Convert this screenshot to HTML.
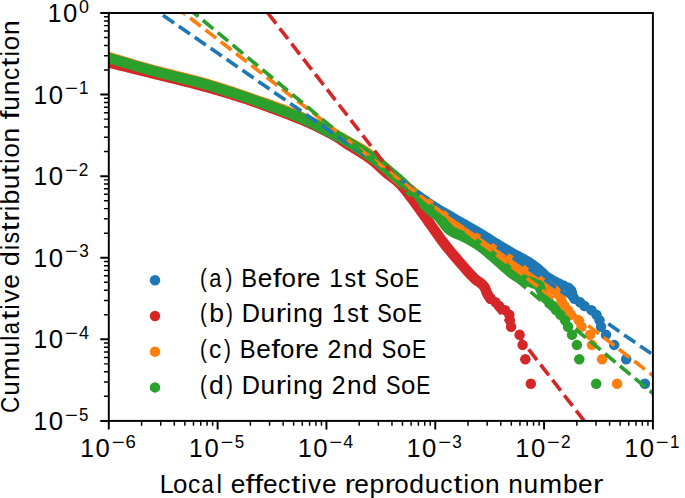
<!DOCTYPE html>
<html><head><meta charset="utf-8"><title>CCDF</title><style>
html,body{margin:0;padding:0;background:#fff;}
body{width:685px;height:498px;overflow:hidden;position:relative;}
svg{position:absolute;left:0;top:0;display:block;}
text{font-family:"Liberation Sans",sans-serif;fill:#000;}
</style></head><body>
<svg width="685" height="498" viewBox="0 0 685 498">
<defs><clipPath id="ax"><rect x="108.8" y="13" width="544.1" height="407.9"/></clipPath></defs>
<rect width="685" height="498" fill="#fff"/>
<g clip-path="url(#ax)">
<polyline points="551,279.48 549.67,278.74 547.78,277.68 546,276.5 544.89,275.45 543.89,274.28 542,272.5 541.15,271.77 540.21,270.96 539.18,270.07 538.06,269.12 536.88,268.12 535.62,267.1 534.29,266.06 532.91,265.02 531.48,264 530,263 528.81,262.25 527.54,261.48 526.21,260.72 524.84,259.94 523.42,259.17 521.98,258.39 520.52,257.61 519.05,256.83 517.59,256.06 516.14,255.28 514.72,254.52 513.34,253.75 512,253 510.6,252.19 509.22,251.39 507.86,250.6 506.52,249.81 505.19,249.03 503.88,248.25 502.57,247.47 501.26,246.69 499.95,245.9 498.64,245.11 497.33,244.31 496,243.5 494.7,242.7 493.45,241.92 492.23,241.15 491.04,240.39 489.84,239.62 488.62,238.84 487.38,238.05 486.07,237.22 484.7,236.36 483.25,235.46 481.68,234.51 480,233.5 478.92,232.86 477.79,232.19 476.6,231.5 475.38,230.79 474.11,230.05 472.81,229.3 471.48,228.54 470.13,227.76 468.76,226.98 467.38,226.19 465.98,225.39 464.59,224.6 463.2,223.8 461.82,223.01 460.45,222.23 459.1,221.45 457.78,220.69 456.48,219.94 455.22,219.21 454,218.5 452.6,217.69 451.23,216.89 449.88,216.12 448.55,215.36 447.24,214.61 445.94,213.86 444.66,213.13 443.38,212.4 442.12,211.67 440.86,210.93 439.6,210.19 438.35,209.45 437.09,208.69 435.83,207.92 434.56,207.13 433.29,206.33 432,205.5 430.7,204.66 429.4,203.8 428.09,202.93 426.78,202.06 425.47,201.17 424.15,200.27 422.84,199.37 421.53,198.46 420.22,197.54 418.92,196.61 417.62,195.68 416.32,194.75 415.04,193.8 413.76,192.86 412.5,191.91 411.24,190.95 410,190 408.77,189.04 407.54,188.06 406.33,187.06 405.11,186.06 403.91,185.05 402.71,184.03 401.52,183.01 400.34,181.98 399.16,180.96 397.99,179.93 396.83,178.91 395.67,177.9 394.53,176.89 393.38,175.9 392.25,174.92 391.12,173.95 390,173 388.75,171.94 387.55,170.9 386.37,169.87 385.21,168.86 384.07,167.85 382.94,166.86 381.82,165.87 380.68,164.88 379.54,163.9 378.37,162.93 377.18,161.95 375.95,160.97 374.69,159.98 373.37,159 372,158 370.82,157.16 369.6,156.32 368.35,155.48 367.07,154.63 365.77,153.78 364.44,152.93 363.1,152.07 361.74,151.22 360.38,150.38 359,149.53 357.61,148.69 356.22,147.85 354.83,147.02 353.45,146.2 352.07,145.38 350.7,144.58 349.34,143.78 348,143 346.67,142.23 345.33,141.46 344,140.7 342.67,139.95 341.33,139.2 340,138.46 338.67,137.73 337.33,137 336,136.28 334.67,135.57 333.33,134.85 332,134.15 330.67,133.45 329.33,132.75 328,132.06 326.67,131.37 325.33,130.68 324,130 322.63,129.3 321.34,128.63 320.1,127.98 318.9,127.36 317.73,126.75 316.58,126.15 315.41,125.56 314.23,124.96 313.01,124.35 311.73,123.73 310.39,123.09 308.96,122.42 307.44,121.72 305.79,120.99 304.01,120.21 302.09,119.38 300,118.5 298.92,118.05 297.8,117.58 296.63,117.1 295.42,116.6 294.18,116.09 292.9,115.57 291.58,115.04 290.24,114.49 288.86,113.94 287.46,113.37 286.04,112.8 284.59,112.22 283.12,111.64 281.63,111.05 280.13,110.45 278.61,109.85 277.08,109.25 275.54,108.65 274,108.04 272.44,107.44 270.89,106.84 269.33,106.24 267.78,105.64 266.23,105.04 264.68,104.45 263.14,103.87 261.61,103.29 260.1,102.72 258.59,102.16 257.11,101.6 255.64,101.06 254.19,100.53 252.77,100 251.37,99.5 250,99 248.48,98.45 246.98,97.91 245.49,97.38 244.02,96.86 242.57,96.35 241.13,95.84 239.7,95.34 238.28,94.85 236.87,94.36 235.47,93.88 234.07,93.4 232.68,92.93 231.29,92.46 229.9,92 228.51,91.54 227.12,91.08 225.72,90.62 224.32,90.17 222.92,89.72 221.5,89.27 220.08,88.82 218.65,88.37 217.2,87.93 215.74,87.48 214.26,87.03 212.77,86.58 211.26,86.13 209.73,85.67 208.18,85.22 206.6,84.76 205,84.3 203.64,83.91 202.25,83.52 200.84,83.13 199.41,82.74 197.96,82.35 196.5,81.96 195.01,81.57 193.52,81.18 192,80.79 190.48,80.4 188.95,80.01 187.4,79.62 185.85,79.23 184.3,78.84 182.74,78.45 181.17,78.06 179.6,77.68 178.03,77.29 176.47,76.91 174.9,76.52 173.34,76.14 171.78,75.76 170.23,75.38 168.69,75.01 167.16,74.63 165.63,74.26 164.12,73.89 162.63,73.52 161.15,73.15 159.68,72.78 158.23,72.42 156.8,72.06 155.4,71.7 154.01,71.35 152.65,71 151.31,70.65 150,70.3 148.29,69.84 146.58,69.38 144.87,68.92 143.17,68.46 141.48,67.99 139.8,67.52 138.13,67.06 136.48,66.6 134.84,66.13 133.22,65.68 131.61,65.22 130.03,64.77 128.47,64.33 126.94,63.89 125.43,63.46 123.95,63.03 122.5,62.61 121.08,62.21 119.69,61.81 118.34,61.42 117.02,61.05 115.75,60.68 114.51,60.33 113.32,60 112.17,59.67 111.06,59.37 110.01,59.07 109,58.8 106.18,58.05 103.81,57.43 101.81,56.94 100.16,56.55 98.78,56.23 97.63,55.98 96.65,55.77 95.79,55.58 95,55.4" fill="none" stroke="#1f77b4" stroke-width="10.5" stroke-linecap="round" stroke-linejoin="round"/>
<g fill="#1f77b4">
<circle cx="644.9" cy="383.8" r="5.25"/>
<circle cx="626.2" cy="359.24" r="5.25"/>
<circle cx="614.2" cy="344.88" r="5.25"/>
<circle cx="606" cy="334.68" r="5.25"/>
<circle cx="601" cy="326.78" r="5.25"/>
<circle cx="599.5" cy="320.32" r="5.25"/>
<circle cx="596.5" cy="314.86" r="5.25"/>
<circle cx="591.5" cy="310.13" r="5.25"/>
<circle cx="584.5" cy="305.95" r="5.25"/>
<circle cx="580" cy="302.22" r="5.25"/>
<circle cx="574.5" cy="298.84" r="5.25"/>
<circle cx="572.5" cy="295.76" r="5.25"/>
<circle cx="572" cy="292.92" r="5.25"/>
<circle cx="571" cy="290.3" r="5.25"/>
<circle cx="568.5" cy="287.85" r="5.25"/>
<circle cx="563.5" cy="285.57" r="5.25"/>
<circle cx="559" cy="283.42" r="5.25"/>
<circle cx="555" cy="281.39" r="5.25"/>
<circle cx="551" cy="279.48" r="5.25"/>
</g>
<polyline points="490.7,298.84 490,297.86 489,296.45 487.92,294.85 487,293.3 486.36,291.78 485.87,290.2 485.34,288.65 484.6,287.2 483.57,285.88 482.35,284.63 481.06,283.47 479.8,282.4 478.43,281.47 477.05,280.7 475,279 474.19,278.21 473.33,277.36 472.42,276.43 471.45,275.42 470.41,274.32 469.31,273.13 468.13,271.84 466.87,270.44 465.53,268.93 464.1,267.3 463.3,266.38 462.45,265.41 461.57,264.39 460.64,263.33 459.69,262.23 458.71,261.09 457.7,259.92 456.68,258.73 455.64,257.51 454.59,256.28 453.54,255.04 452.49,253.79 451.44,252.53 450.41,251.28 449.38,250.03 448.37,248.8 447.39,247.58 446.43,246.38 445.5,245.2 444.55,243.97 443.6,242.74 442.67,241.51 441.75,240.27 440.84,239.03 439.94,237.8 439.05,236.56 438.16,235.32 437.28,234.09 436.41,232.85 435.54,231.62 434.67,230.39 433.81,229.17 432.95,227.94 432.08,226.73 431.22,225.51 430.36,224.3 429.5,223.1 428.59,221.83 427.68,220.55 426.77,219.28 425.87,218 424.97,216.73 424.08,215.45 423.18,214.19 422.29,212.92 421.41,211.67 420.52,210.42 419.64,209.18 418.76,207.95 417.89,206.73 417.01,205.53 416.14,204.33 415.27,203.16 414.4,202 413.42,200.7 412.44,199.39 411.47,198.1 410.5,196.81 409.53,195.53 408.57,194.26 407.61,193.02 406.65,191.79 405.7,190.58 404.74,189.4 403.79,188.25 402.84,187.13 401.89,186.05 400.95,185 400,184 398.83,182.82 397.67,181.74 396.52,180.73 395.38,179.78 394.24,178.87 393.1,178 391.95,177.14 390.8,176.28 389.63,175.4 388.44,174.49 387.24,173.53 386,172.5 384.93,171.58 383.87,170.63 382.81,169.67 381.75,168.68 380.68,167.68 379.6,166.67 378.5,165.66 377.38,164.63 376.24,163.6 375.07,162.57 373.86,161.55 372.62,160.52 371.33,159.51 370,158.5 368.86,157.67 367.66,156.84 366.43,156 365.15,155.15 363.85,154.31 362.52,153.46 361.17,152.61 359.81,151.77 358.44,150.92 357.07,150.09 355.71,149.26 354.36,148.43 353.03,147.62 351.72,146.82 350.44,146.03 349.2,145.26 348,144.5 346.62,143.61 345.32,142.75 344.09,141.92 342.92,141.1 341.77,140.31 340.64,139.53 339.5,138.75 338.34,137.97 337.15,137.19 335.9,136.4 334.58,135.58 333.17,134.75 331.65,133.89 330,133 328.9,132.42 327.8,131.84 326.68,131.25 325.55,130.67 324.4,130.08 323.22,129.49 322.03,128.89 320.82,128.29 319.57,127.68 318.3,127.06 317,126.44 315.66,125.82 314.29,125.18 312.89,124.53 311.44,123.88 309.95,123.22 308.41,122.54 306.83,121.86 305.2,121.16 303.52,120.45 301.79,119.73 300,119 298.84,118.53 297.64,118.05 296.41,117.55 295.15,117.05 293.86,116.54 292.54,116.02 291.2,115.5 289.83,114.96 288.44,114.43 287.03,113.88 285.59,113.33 284.14,112.78 282.68,112.22 281.2,111.66 279.71,111.1 278.21,110.53 276.7,109.97 275.18,109.41 273.65,108.84 272.13,108.28 270.6,107.72 269.07,107.16 267.55,106.6 266.02,106.05 264.5,105.5 262.99,104.96 261.49,104.42 260,103.89 258.52,103.36 257.06,102.85 255.61,102.34 254.17,101.84 252.76,101.35 251.37,100.87 250,100.4 248.48,99.88 246.98,99.37 245.49,98.88 244.02,98.39 242.57,97.9 241.13,97.43 239.7,96.96 238.28,96.5 236.87,96.05 235.47,95.6 234.07,95.15 232.68,94.71 231.29,94.28 229.9,93.85 228.51,93.42 227.12,92.99 225.72,92.57 224.32,92.15 222.92,91.73 221.5,91.31 220.08,90.89 218.65,90.47 217.2,90.05 215.74,89.63 214.26,89.2 212.77,88.78 211.26,88.35 209.73,87.92 208.18,87.48 206.6,87.04 205,86.6 203.64,86.22 202.25,85.85 200.84,85.46 199.41,85.08 197.96,84.7 196.5,84.31 195.01,83.92 193.52,83.53 192,83.14 190.48,82.75 188.95,82.36 187.4,81.96 185.85,81.57 184.3,81.18 182.74,80.79 181.17,80.39 179.6,80 178.03,79.61 176.47,79.22 174.9,78.84 173.34,78.45 171.78,78.07 170.23,77.69 168.69,77.31 167.16,76.93 165.63,76.56 164.12,76.19 162.63,75.82 161.15,75.45 159.68,75.09 158.23,74.74 156.8,74.39 155.4,74.04 154.01,73.7 152.65,73.36 151.31,73.03 150,72.7 148.29,72.27 146.58,71.85 144.87,71.42 143.17,71 141.48,70.58 139.8,70.16 138.13,69.75 136.48,69.34 134.84,68.94 133.22,68.54 131.61,68.14 130.03,67.75 128.47,67.37 126.94,66.99 125.43,66.62 123.95,66.26 122.5,65.9 121.08,65.56 119.69,65.22 118.34,64.89 117.02,64.56 115.75,64.25 114.51,63.95 113.32,63.66 112.17,63.38 111.06,63.11 110.01,62.85 109,62.6 106.18,61.91 103.81,61.33 101.81,60.84 100.16,60.44 98.78,60.11 97.63,59.83 96.65,59.6 95.79,59.39 95,59.2" fill="none" stroke="#d62728" stroke-width="10.5" stroke-linecap="round" stroke-linejoin="round"/>
<g fill="#d62728">
<circle cx="530.8" cy="383.8" r="5.25"/>
<circle cx="525.3" cy="359.24" r="5.25"/>
<circle cx="522.6" cy="344.88" r="5.25"/>
<circle cx="519.6" cy="334.68" r="5.25"/>
<circle cx="511.1" cy="326.78" r="5.25"/>
<circle cx="509.9" cy="320.32" r="5.25"/>
<circle cx="509.3" cy="314.86" r="5.25"/>
<circle cx="505.1" cy="310.13" r="5.25"/>
<circle cx="499.1" cy="305.95" r="5.25"/>
<circle cx="495.5" cy="302.22" r="5.25"/>
<circle cx="490.7" cy="298.84" r="5.25"/>
</g>
<polyline points="554.5,290.3 553.63,289.77 552.51,289.09 551.16,288.28 549.63,287.35 547.96,286.34 546.17,285.24 544.3,284.1 543.15,283.4 541.93,282.67 540.65,281.91 539.31,281.11 537.93,280.29 536.51,279.44 535.08,278.58 533.64,277.69 532.2,276.79 530.77,275.87 529.37,274.94 528,274 526.76,273.11 525.52,272.18 524.29,271.23 523.05,270.25 521.82,269.25 520.6,268.25 519.37,267.24 518.14,266.23 516.91,265.24 515.69,264.26 514.46,263.31 513.23,262.39 512,261.5 510.67,260.58 509.33,259.7 508,258.84 506.67,258.01 505.33,257.2 504,256.39 502.67,255.6 501.33,254.8 500,254 498.67,253.18 497.33,252.35 496,251.5 494.63,250.6 493.19,249.65 491.71,248.65 490.21,247.64 488.71,246.62 487.23,245.61 485.79,244.63 484.42,243.69 483.14,242.81 481.95,242.01 480.9,241.3 480,240.7 478.26,239.55 476.3,238.5 475.4,238 474.37,237.46 473.22,236.86 471.96,236.21 470.61,235.51 469.19,234.77 467.72,233.99 466.21,233.17 464.67,232.3 463.12,231.4 461.58,230.47 460.07,229.5 458.6,228.5 457.48,227.7 456.35,226.85 455.2,225.97 454.04,225.04 452.87,224.09 451.69,223.11 450.5,222.11 449.31,221.1 448.11,220.07 446.92,219.04 445.72,218.01 444.53,216.99 443.35,215.97 442.17,214.97 441,213.99 439.84,213.03 438.7,212.1 437.42,211.08 436.16,210.08 434.9,209.1 433.66,208.13 432.43,207.17 431.2,206.22 429.97,205.28 428.74,204.33 427.52,203.39 426.29,202.44 425.05,201.48 423.8,200.51 422.55,199.53 421.28,198.52 420,197.5 418.87,196.59 417.76,195.69 416.65,194.8 415.55,193.92 414.46,193.03 413.36,192.14 412.26,191.24 411.14,190.33 410.02,189.4 408.87,188.46 407.7,187.49 406.51,186.5 405.28,185.47 404.02,184.41 402.73,183.32 401.39,182.18 400,181 398.98,180.12 397.93,179.21 396.86,178.26 395.75,177.27 394.62,176.25 393.47,175.21 392.3,174.15 391.11,173.07 389.91,171.98 388.7,170.88 387.48,169.77 386.25,168.66 385.02,167.55 383.79,166.44 382.56,165.34 381.33,164.26 380.12,163.19 378.91,162.14 377.71,161.12 376.53,160.13 375.36,159.16 374.22,158.23 373.1,157.35 372,156.5 370.6,155.45 369.29,154.47 368.05,153.57 366.86,152.72 365.71,151.92 364.59,151.17 363.49,150.44 362.38,149.73 361.25,149.03 360.09,148.33 358.89,147.62 357.63,146.89 356.29,146.13 354.87,145.32 353.34,144.47 351.7,143.55 349.92,142.57 348,141.5 346.98,140.93 345.93,140.35 344.85,139.75 343.73,139.13 342.59,138.49 341.41,137.84 340.21,137.17 338.98,136.49 337.73,135.8 336.46,135.1 335.17,134.39 333.85,133.67 332.52,132.94 331.17,132.2 329.8,131.46 328.42,130.72 327.03,129.97 325.62,129.22 324.21,128.47 322.79,127.71 321.36,126.96 319.92,126.21 318.48,125.47 317.04,124.72 315.59,123.98 314.15,123.25 312.7,122.53 311.26,121.81 309.82,121.1 308.39,120.41 306.97,119.72 305.55,119.05 304.15,118.39 302.75,117.74 301.37,117.11 300,116.5 298.6,115.88 297.19,115.27 295.77,114.67 294.35,114.07 292.92,113.48 291.49,112.9 290.05,112.32 288.61,111.75 287.16,111.19 285.71,110.63 284.26,110.07 282.81,109.53 281.36,108.98 279.9,108.44 278.45,107.91 276.99,107.38 275.54,106.86 274.09,106.34 272.63,105.83 271.18,105.31 269.74,104.81 268.29,104.3 266.85,103.8 265.41,103.31 263.98,102.81 262.55,102.32 261.13,101.83 259.71,101.35 258.3,100.86 256.9,100.38 255.5,99.9 254.11,99.42 252.73,98.95 251.36,98.47 250,98 248.48,97.47 246.98,96.95 245.49,96.43 244.02,95.92 242.57,95.42 241.13,94.92 239.7,94.43 238.28,93.94 236.87,93.46 235.47,92.98 234.07,92.51 232.68,92.04 231.29,91.58 229.9,91.11 228.51,90.65 227.12,90.2 225.72,89.74 224.32,89.29 222.92,88.84 221.5,88.39 220.08,87.94 218.65,87.49 217.2,87.04 215.74,86.59 214.26,86.14 212.77,85.68 211.26,85.23 209.73,84.78 208.18,84.32 206.6,83.86 205,83.4 203.64,83.01 202.25,82.62 200.84,82.23 199.41,81.84 197.96,81.45 196.5,81.06 195.01,80.67 193.52,80.28 192,79.89 190.48,79.5 188.95,79.11 187.4,78.72 185.85,78.32 184.3,77.93 182.74,77.55 181.17,77.16 179.6,76.77 178.03,76.38 176.47,75.99 174.9,75.61 173.34,75.22 171.78,74.84 170.23,74.46 168.69,74.08 167.16,73.7 165.63,73.32 164.12,72.95 162.63,72.57 161.15,72.2 159.68,71.83 158.23,71.46 156.8,71.1 155.4,70.73 154.01,70.37 152.65,70.01 151.31,69.65 150,69.3 148.29,68.83 146.58,68.36 144.87,67.88 143.17,67.4 141.48,66.92 139.8,66.43 138.13,65.95 136.48,65.47 134.84,64.99 133.22,64.51 131.61,64.03 130.03,63.56 128.47,63.09 126.94,62.63 125.43,62.18 123.95,61.73 122.5,61.29 121.08,60.86 119.69,60.45 118.34,60.04 117.02,59.65 115.75,59.26 114.51,58.9 113.32,58.54 112.17,58.21 111.06,57.89 110.01,57.58 109,57.3 106.18,56.53 103.81,55.9 101.81,55.4 100.16,55.01 98.78,54.71 97.63,54.46 96.65,54.26 95.79,54.08 95,53.9" fill="none" stroke="#ff7f0e" stroke-width="10.5" stroke-linecap="round" stroke-linejoin="round"/>
<g fill="#ff7f0e">
<circle cx="617.1" cy="383.8" r="5.25"/>
<circle cx="602.1" cy="359.24" r="5.25"/>
<circle cx="592" cy="344.88" r="5.25"/>
<circle cx="590" cy="334.68" r="5.25"/>
<circle cx="581.5" cy="326.78" r="5.25"/>
<circle cx="578.7" cy="320.32" r="5.25"/>
<circle cx="571" cy="314.86" r="5.25"/>
<circle cx="568" cy="310.13" r="5.25"/>
<circle cx="564.5" cy="305.95" r="5.25"/>
<circle cx="562" cy="302.22" r="5.25"/>
<circle cx="561" cy="298.84" r="5.25"/>
<circle cx="559.5" cy="295.76" r="5.25"/>
<circle cx="557" cy="292.92" r="5.25"/>
<circle cx="554.5" cy="290.3" r="5.25"/>
</g>
<polyline points="539,285.57 538.04,285.14 536.7,284.53 535.01,283.8 533,283 531.66,282.52 530.14,282.01 528.49,281.46 526.77,280.89 525.05,280.29 523.37,279.66 521.8,279 520.38,278.37 519.08,277.79 517.83,277.19 516.56,276.53 515.21,275.73 513.71,274.74 512,273.5 511.05,272.76 510.04,271.94 508.98,271.05 507.88,270.1 506.74,269.09 505.58,268.05 504.39,266.98 503.18,265.89 501.97,264.79 500.75,263.69 499.54,262.6 498.34,261.53 497.16,260.5 496,259.5 494.77,258.45 493.53,257.38 492.28,256.31 491.04,255.24 489.79,254.16 488.55,253.1 487.3,252.05 486.07,251.02 484.83,250.01 483.61,249.03 482.4,248.08 481.19,247.17 480,246.3 478.61,245.33 477.24,244.41 475.89,243.55 474.56,242.72 473.23,241.93 471.9,241.16 470.58,240.42 469.25,239.69 467.91,238.96 466.56,238.23 465.2,237.5 463.81,236.79 462.38,236.13 460.93,235.51 459.46,234.91 458,234.31 456.54,233.71 455.11,233.08 453.71,232.41 452.35,231.68 451.04,230.88 449.8,230 448.62,229 447.49,227.89 446.4,226.69 445.35,225.43 444.33,224.12 443.34,222.81 442.38,221.52 441.44,220.26 440.51,219.07 439.6,217.98 438.7,217 437.39,215.75 436.22,214.78 435.13,213.97 434.04,213.21 432.87,212.37 431.55,211.34 430,210 429.05,209.13 428.04,208.19 426.97,207.18 425.85,206.11 424.69,204.99 423.5,203.84 422.28,202.66 421.06,201.45 419.82,200.24 418.59,199.03 417.37,197.83 416.17,196.65 415,195.5 413.92,194.43 412.81,193.33 411.7,192.2 410.57,191.06 409.44,189.91 408.31,188.77 407.19,187.62 406.08,186.5 404.99,185.4 403.92,184.33 402.88,183.29 401.88,182.31 400.92,181.37 400,180.5 398.57,179.17 397.34,178.06 396.24,177.1 395.19,176.22 394.12,175.34 392.95,174.39 391.6,173.31 390,172 389.04,171.21 388.05,170.37 387.01,169.5 385.93,168.59 384.81,167.65 383.66,166.68 382.48,165.69 381.26,164.68 380.02,163.66 378.74,162.63 377.44,161.59 376.11,160.56 374.76,159.53 373.39,158.51 372,157.5 370.88,156.7 369.73,155.9 368.55,155.08 367.34,154.26 366.11,153.43 364.86,152.59 363.6,151.75 362.32,150.91 361.03,150.07 359.72,149.23 358.41,148.39 357.1,147.56 355.78,146.74 354.47,145.92 353.16,145.11 351.85,144.31 350.56,143.53 349.27,142.76 348,142 346.67,141.22 345.33,140.45 344,139.68 342.67,138.93 341.33,138.19 340,137.46 338.67,136.73 337.33,136.02 336,135.31 334.67,134.6 333.33,133.9 332,133.21 330.67,132.52 329.33,131.83 328,131.14 326.67,130.46 325.33,129.78 324,129.1 322.63,128.4 321.34,127.72 320.1,127.07 318.9,126.43 317.73,125.81 316.58,125.2 315.41,124.59 314.23,123.98 313.01,123.36 311.73,122.73 310.39,122.08 308.96,121.4 307.44,120.7 305.79,119.96 304.01,119.19 302.09,118.37 300,117.5 298.92,117.06 297.8,116.6 296.63,116.13 295.42,115.65 294.18,115.15 292.9,114.64 291.58,114.12 290.24,113.6 288.86,113.06 287.46,112.51 286.04,111.96 284.59,111.4 283.12,110.84 281.63,110.27 280.13,109.7 278.61,109.12 277.08,108.54 275.54,107.96 274,107.38 272.44,106.8 270.89,106.22 269.33,105.64 267.78,105.07 266.23,104.49 264.68,103.93 263.14,103.36 261.61,102.81 260.1,102.25 258.59,101.71 257.11,101.18 255.64,100.65 254.19,100.13 252.77,99.63 251.37,99.13 250,98.65 248.46,98.11 246.92,97.58 245.36,97.04 243.8,96.51 242.24,95.98 240.67,95.45 239.11,94.93 237.54,94.41 235.97,93.89 234.41,93.38 232.85,92.87 231.3,92.37 229.75,91.87 228.22,91.38 226.7,90.89 225.18,90.41 223.68,89.93 222.2,89.47 220.74,89.01 219.29,88.55 217.86,88.11 216.45,87.68 215.07,87.25 213.71,86.83 212.38,86.42 211.07,86.03 209.79,85.64 208.54,85.26 207.33,84.9 206.15,84.54 205,84.2 203.02,83.62 201.17,83.09 199.46,82.61 197.85,82.17 196.33,81.77 194.9,81.4 193.53,81.06 192.21,80.74 190.92,80.43 189.65,80.13 188.39,79.84 187.11,79.54 185.8,79.23 184.45,78.91 183.05,78.57 181.57,78.2 180,77.8 178.63,77.45 177.25,77.09 175.88,76.74 174.5,76.39 173.11,76.04 171.71,75.69 170.31,75.33 168.89,74.97 167.45,74.61 166,74.24 164.53,73.86 163.03,73.48 161.51,73.08 159.97,72.68 158.39,72.26 156.78,71.84 155.14,71.4 153.47,70.95 151.75,70.48 150,70 148.7,69.64 147.35,69.26 145.94,68.86 144.48,68.45 142.99,68.02 141.45,67.58 139.89,67.13 138.3,66.67 136.69,66.21 135.06,65.73 133.42,65.26 131.78,64.78 130.14,64.3 128.5,63.82 126.87,63.34 125.26,62.87 123.67,62.41 122.1,61.95 120.57,61.5 119.07,61.07 117.61,60.65 116.2,60.24 114.84,59.85 113.54,59.47 112.3,59.12 111.12,58.79 110.02,58.48 109,58.2 106.18,57.44 103.81,56.83 101.81,56.35 100.16,55.97 98.78,55.67 97.63,55.44 96.65,55.25 95.79,55.08 95,54.9" fill="none" stroke="#2ca02c" stroke-width="10.5" stroke-linecap="round" stroke-linejoin="round"/>
<g fill="#2ca02c">
<circle cx="596.2" cy="383.8" r="5.25"/>
<circle cx="579.3" cy="359.24" r="5.25"/>
<circle cx="576.9" cy="344.88" r="5.25"/>
<circle cx="572" cy="334.68" r="5.25"/>
<circle cx="568" cy="326.78" r="5.25"/>
<circle cx="565" cy="320.32" r="5.25"/>
<circle cx="560.5" cy="314.86" r="5.25"/>
<circle cx="556" cy="310.13" r="5.25"/>
<circle cx="553" cy="305.95" r="5.25"/>
<circle cx="549" cy="302.22" r="5.25"/>
<circle cx="546" cy="298.84" r="5.25"/>
<circle cx="543.5" cy="295.76" r="5.25"/>
<circle cx="542" cy="292.92" r="5.25"/>
<circle cx="541" cy="290.3" r="5.25"/>
<circle cx="540" cy="287.85" r="5.25"/>
<circle cx="539" cy="285.57" r="5.25"/>
</g>
<line x1="155.37" y1="10" x2="655.9" y2="356.87" stroke="#1f77b4" stroke-width="3.65" stroke-dasharray="13.51 5.84" stroke-dashoffset="10.13"/>
<line x1="265.49" y1="10" x2="586.49" y2="423.9" stroke="#d62728" stroke-width="3.65" stroke-dasharray="13.51 5.84" stroke-dashoffset="15.55"/>
<line x1="179.71" y1="10" x2="655.9" y2="377.81" stroke="#ff7f0e" stroke-width="3.65" stroke-dasharray="13.51 5.84" stroke-dashoffset="6.19"/>
<line x1="190.51" y1="10" x2="655.9" y2="395.81" stroke="#2ca02c" stroke-width="3.65" stroke-dasharray="13.51 5.84" stroke-dashoffset="3.3"/>
</g>
<rect x="108.8" y="13" width="544.1" height="407.9" fill="none" stroke="#000" stroke-width="1.95" stroke-linejoin="miter"/>
<path d="M108.8 420.9V429.42M108.8 13H100.28M217.62 420.9V429.42M108.8 94.58H100.28M326.44 420.9V429.42M108.8 176.16H100.28M435.26 420.9V429.42M108.8 257.74H100.28M544.08 420.9V429.42M108.8 339.32H100.28M652.9 420.9V429.42M108.8 420.9H100.28" stroke="#000" stroke-width="1.95"/>
<path d="M141.56 420.9V425.77M108.8 396.34H103.93M160.72 420.9V425.77M108.8 381.98H103.93M174.32 420.9V425.77M108.8 371.78H103.93M184.86 420.9V425.77M108.8 363.88H103.93M193.48 420.9V425.77M108.8 357.42H103.93M200.76 420.9V425.77M108.8 351.96H103.93M207.07 420.9V425.77M108.8 347.23H103.93M212.64 420.9V425.77M108.8 343.05H103.93M250.38 420.9V425.77M108.8 314.76H103.93M269.54 420.9V425.77M108.8 300.4H103.93M283.14 420.9V425.77M108.8 290.2H103.93M293.68 420.9V425.77M108.8 282.3H103.93M302.3 420.9V425.77M108.8 275.84H103.93M309.58 420.9V425.77M108.8 270.38H103.93M315.89 420.9V425.77M108.8 265.65H103.93M321.46 420.9V425.77M108.8 261.47H103.93M359.2 420.9V425.77M108.8 233.18H103.93M378.36 420.9V425.77M108.8 218.82H103.93M391.96 420.9V425.77M108.8 208.62H103.93M402.5 420.9V425.77M108.8 200.72H103.93M411.12 420.9V425.77M108.8 194.26H103.93M418.4 420.9V425.77M108.8 188.8H103.93M424.71 420.9V425.77M108.8 184.07H103.93M430.28 420.9V425.77M108.8 179.89H103.93M468.02 420.9V425.77M108.8 151.6H103.93M487.18 420.9V425.77M108.8 137.24H103.93M500.78 420.9V425.77M108.8 127.04H103.93M511.32 420.9V425.77M108.8 119.14H103.93M519.94 420.9V425.77M108.8 112.68H103.93M527.22 420.9V425.77M108.8 107.22H103.93M533.53 420.9V425.77M108.8 102.49H103.93M539.1 420.9V425.77M108.8 98.31H103.93M576.84 420.9V425.77M108.8 70.02H103.93M596 420.9V425.77M108.8 55.66H103.93M609.6 420.9V425.77M108.8 45.46H103.93M620.14 420.9V425.77M108.8 37.56H103.93M628.76 420.9V425.77M108.8 31.1H103.93M636.04 420.9V425.77M108.8 25.64H103.93M642.35 420.9V425.77M108.8 20.91H103.93M647.92 420.9V425.77M108.8 16.73H103.93" stroke="#000" stroke-width="1.46"/>
<text transform="translate(80.3 457.2) scale(0.967 1)" font-size="25.4">1</text>
<text transform="translate(95.61 457.2) scale(1.011 1)" font-size="25.4">0</text>
<text transform="translate(111.73 447.9) scale(1.232 1)" font-size="17.78">−</text>
<text transform="translate(125.51 447.9) scale(1.044 1)" font-size="17.78">6</text>
<text transform="translate(189.12 457.2) scale(0.967 1)" font-size="25.4">1</text>
<text transform="translate(204.43 457.2) scale(1.011 1)" font-size="25.4">0</text>
<text transform="translate(220.55 447.9) scale(1.232 1)" font-size="17.78">−</text>
<text transform="translate(234.72 447.9) scale(0.951 1)" font-size="17.78">5</text>
<text transform="translate(297.94 457.2) scale(0.967 1)" font-size="25.4">1</text>
<text transform="translate(313.25 457.2) scale(1.011 1)" font-size="25.4">0</text>
<text transform="translate(329.37 447.9) scale(1.232 1)" font-size="17.78">−</text>
<text transform="translate(343.32 447.9) scale(1.008 1)" font-size="17.78">4</text>
<text transform="translate(406.76 457.2) scale(0.967 1)" font-size="25.4">1</text>
<text transform="translate(422.07 457.2) scale(1.011 1)" font-size="25.4">0</text>
<text transform="translate(438.19 447.9) scale(1.232 1)" font-size="17.78">−</text>
<text transform="translate(452.36 447.9) scale(0.968 1)" font-size="17.78">3</text>
<text transform="translate(515.58 457.2) scale(0.967 1)" font-size="25.4">1</text>
<text transform="translate(530.89 457.2) scale(1.011 1)" font-size="25.4">0</text>
<text transform="translate(547.01 447.9) scale(1.232 1)" font-size="17.78">−</text>
<text transform="translate(560.92 447.9) scale(0.970 1)" font-size="17.78">2</text>
<text transform="translate(624.4 457.2) scale(0.967 1)" font-size="25.4">1</text>
<text transform="translate(639.71 457.2) scale(1.011 1)" font-size="25.4">0</text>
<text transform="translate(655.83 447.9) scale(1.232 1)" font-size="17.78">−</text>
<text transform="translate(669.93 447.9) scale(0.962 1)" font-size="17.78">1</text>
<text transform="translate(47.77 22) scale(0.967 1)" font-size="25.4">1</text>
<text transform="translate(63.08 22) scale(1.011 1)" font-size="25.4">0</text>
<text transform="translate(78.91 12.7) scale(1.007 1)" font-size="17.78">0</text>
<text transform="translate(33.52 103.58) scale(0.967 1)" font-size="25.4">1</text>
<text transform="translate(48.84 103.58) scale(1.011 1)" font-size="25.4">0</text>
<text transform="translate(64.96 94.28) scale(1.232 1)" font-size="17.78">−</text>
<text transform="translate(79.06 94.28) scale(0.962 1)" font-size="17.78">1</text>
<text transform="translate(33.52 185.16) scale(0.967 1)" font-size="25.4">1</text>
<text transform="translate(48.84 185.16) scale(1.011 1)" font-size="25.4">0</text>
<text transform="translate(64.96 175.86) scale(1.232 1)" font-size="17.78">−</text>
<text transform="translate(78.87 175.86) scale(0.970 1)" font-size="17.78">2</text>
<text transform="translate(33.52 266.74) scale(0.967 1)" font-size="25.4">1</text>
<text transform="translate(48.84 266.74) scale(1.011 1)" font-size="25.4">0</text>
<text transform="translate(64.96 257.44) scale(1.232 1)" font-size="17.78">−</text>
<text transform="translate(79.13 257.44) scale(0.968 1)" font-size="17.78">3</text>
<text transform="translate(33.52 348.32) scale(0.967 1)" font-size="25.4">1</text>
<text transform="translate(48.84 348.32) scale(1.011 1)" font-size="25.4">0</text>
<text transform="translate(64.96 339.02) scale(1.232 1)" font-size="17.78">−</text>
<text transform="translate(78.9 339.02) scale(1.008 1)" font-size="17.78">4</text>
<text transform="translate(33.52 429.9) scale(0.967 1)" font-size="25.4">1</text>
<text transform="translate(48.84 429.9) scale(1.011 1)" font-size="25.4">0</text>
<text transform="translate(64.96 420.6) scale(1.232 1)" font-size="17.78">−</text>
<text transform="translate(79.12 420.6) scale(0.951 1)" font-size="17.78">5</text>
<text transform="translate(159.87 492.8) scale(0.988 1)" font-size="25.4">L</text>
<text transform="translate(172.99 492.8) scale(1.020 1)" font-size="25.4">o</text>
<text transform="translate(187.96 492.8) scale(0.963 1)" font-size="25.4">c</text>
<text transform="translate(201.59 492.8) scale(0.862 1)" font-size="25.4">a</text>
<text transform="translate(216.61 492.8) scale(0.980 1)" font-size="25.4">l</text>
<text transform="translate(230.73 492.8) scale(1.037 1)" font-size="25.4">e</text>
<text transform="translate(245.62 492.8) scale(1.260 1)" font-size="25.4">f</text>
<text transform="translate(254.2 492.8) scale(1.260 1)" font-size="25.4">f</text>
<text transform="translate(262.89 492.8) scale(1.037 1)" font-size="25.4">e</text>
<text transform="translate(277.97 492.8) scale(0.963 1)" font-size="25.4">c</text>
<text transform="translate(291.23 492.8) scale(1.282 1)" font-size="25.4">t</text>
<text transform="translate(301.26 492.8) scale(0.980 1)" font-size="25.4">i</text>
<text transform="translate(308.04 492.8) scale(1.035 1)" font-size="25.4">v</text>
<text transform="translate(322.05 492.8) scale(1.037 1)" font-size="25.4">e</text>
<text transform="translate(344.71 492.8) scale(1.228 1)" font-size="25.4">r</text>
<text transform="translate(354.31 492.8) scale(1.037 1)" font-size="25.4">e</text>
<text transform="translate(369.59 492.8) scale(1.044 1)" font-size="25.4">p</text>
<text transform="translate(384.7 492.8) scale(1.228 1)" font-size="25.4">r</text>
<text transform="translate(394.33 492.8) scale(1.020 1)" font-size="25.4">o</text>
<text transform="translate(409.22 492.8) scale(1.044 1)" font-size="25.4">d</text>
<text transform="translate(424.83 492.8) scale(1.034 1)" font-size="25.4">u</text>
<text transform="translate(440.21 492.8) scale(0.963 1)" font-size="25.4">c</text>
<text transform="translate(453.48 492.8) scale(1.282 1)" font-size="25.4">t</text>
<text transform="translate(463.5 492.8) scale(0.980 1)" font-size="25.4">i</text>
<text transform="translate(469.9 492.8) scale(1.020 1)" font-size="25.4">o</text>
<text transform="translate(485.03 492.8) scale(1.034 1)" font-size="25.4">n</text>
<text transform="translate(508.23 492.8) scale(1.034 1)" font-size="25.4">n</text>
<text transform="translate(523.57 492.8) scale(1.034 1)" font-size="25.4">u</text>
<text transform="translate(539.02 492.8) scale(1.093 1)" font-size="25.4">m</text>
<text transform="translate(562.9 492.8) scale(1.044 1)" font-size="25.4">b</text>
<text transform="translate(578.09 492.8) scale(1.037 1)" font-size="25.4">e</text>
<text transform="translate(593.01 492.8) scale(1.228 1)" font-size="25.4">r</text>
<text transform="translate(18.7 413.2) rotate(-90) translate(0.23 0) scale(0.891 1)" font-size="25.4">C</text>
<text transform="translate(18.7 413.2) rotate(-90) translate(17.39 0) scale(1.034 1)" font-size="25.4">u</text>
<text transform="translate(18.7 413.2) rotate(-90) translate(32.84 0) scale(1.093 1)" font-size="25.4">m</text>
<text transform="translate(18.7 413.2) rotate(-90) translate(56.59 0) scale(1.034 1)" font-size="25.4">u</text>
<text transform="translate(18.7 413.2) rotate(-90) translate(72.28 0) scale(0.980 1)" font-size="25.4">l</text>
<text transform="translate(18.7 413.2) rotate(-90) translate(78.97 0) scale(0.862 1)" font-size="25.4">a</text>
<text transform="translate(18.7 413.2) rotate(-90) translate(93.53 0) scale(1.282 1)" font-size="25.4">t</text>
<text transform="translate(18.7 413.2) rotate(-90) translate(103.56 0) scale(0.980 1)" font-size="25.4">i</text>
<text transform="translate(18.7 413.2) rotate(-90) translate(110.34 0) scale(1.035 1)" font-size="25.4">v</text>
<text transform="translate(18.7 413.2) rotate(-90) translate(124.35 0) scale(1.037 1)" font-size="25.4">e</text>
<text transform="translate(18.7 413.2) rotate(-90) translate(147.1 0) scale(1.044 1)" font-size="25.4">d</text>
<text transform="translate(18.7 413.2) rotate(-90) translate(162.97 0) scale(0.980 1)" font-size="25.4">i</text>
<text transform="translate(18.7 413.2) rotate(-90) translate(169.79 0) scale(0.920 1)" font-size="25.4">s</text>
<text transform="translate(18.7 413.2) rotate(-90) translate(181.98 0) scale(1.282 1)" font-size="25.4">t</text>
<text transform="translate(18.7 413.2) rotate(-90) translate(191.52 0) scale(1.228 1)" font-size="25.4">r</text>
<text transform="translate(18.7 413.2) rotate(-90) translate(202.02 0) scale(0.980 1)" font-size="25.4">i</text>
<text transform="translate(18.7 413.2) rotate(-90) translate(208.67 0) scale(1.044 1)" font-size="25.4">b</text>
<text transform="translate(18.7 413.2) rotate(-90) translate(224.01 0) scale(1.034 1)" font-size="25.4">u</text>
<text transform="translate(18.7 413.2) rotate(-90) translate(239.25 0) scale(1.282 1)" font-size="25.4">t</text>
<text transform="translate(18.7 413.2) rotate(-90) translate(249.27 0) scale(0.980 1)" font-size="25.4">i</text>
<text transform="translate(18.7 413.2) rotate(-90) translate(255.67 0) scale(1.020 1)" font-size="25.4">o</text>
<text transform="translate(18.7 413.2) rotate(-90) translate(270.8 0) scale(1.034 1)" font-size="25.4">n</text>
<text transform="translate(18.7 413.2) rotate(-90) translate(293.63 0) scale(1.260 1)" font-size="25.4">f</text>
<text transform="translate(18.7 413.2) rotate(-90) translate(302.48 0) scale(1.034 1)" font-size="25.4">u</text>
<text transform="translate(18.7 413.2) rotate(-90) translate(318.03 0) scale(1.034 1)" font-size="25.4">n</text>
<text transform="translate(18.7 413.2) rotate(-90) translate(333.31 0) scale(0.963 1)" font-size="25.4">c</text>
<text transform="translate(18.7 413.2) rotate(-90) translate(346.57 0) scale(1.282 1)" font-size="25.4">t</text>
<text transform="translate(18.7 413.2) rotate(-90) translate(356.59 0) scale(0.980 1)" font-size="25.4">i</text>
<text transform="translate(18.7 413.2) rotate(-90) translate(362.99 0) scale(1.020 1)" font-size="25.4">o</text>
<text transform="translate(18.7 413.2) rotate(-90) translate(378.12 0) scale(1.034 1)" font-size="25.4">n</text>
<circle cx="155" cy="280.2" r="5.25" fill="#1f77b4"/>
<text transform="translate(200.01 286.5) scale(0.812 1)" font-size="25.4">(</text>
<text transform="translate(209.25 286.5) scale(0.862 1)" font-size="25.4">a</text>
<text transform="translate(225.48 286.5) scale(0.812 1)" font-size="25.4">)</text>
<text transform="translate(241.35 286.5) scale(0.933 1)" font-size="25.4">B</text>
<text transform="translate(257.85 286.5) scale(1.037 1)" font-size="25.4">e</text>
<text transform="translate(272.73 286.5) scale(1.260 1)" font-size="25.4">f</text>
<text transform="translate(281.46 286.5) scale(1.020 1)" font-size="25.4">o</text>
<text transform="translate(296.26 286.5) scale(1.228 1)" font-size="25.4">r</text>
<text transform="translate(305.86 286.5) scale(1.037 1)" font-size="25.4">e</text>
<text transform="translate(329.18 286.5) scale(0.967 1)" font-size="25.4">1</text>
<text transform="translate(344.57 286.5) scale(0.920 1)" font-size="25.4">s</text>
<text transform="translate(356.75 286.5) scale(1.282 1)" font-size="25.4">t</text>
<text transform="translate(374.52 286.5) scale(0.855 1)" font-size="25.4">S</text>
<text transform="translate(389.62 286.5) scale(1.020 1)" font-size="25.4">o</text>
<text transform="translate(404.94 286.5) scale(0.832 1)" font-size="25.4">E</text>
<circle cx="155" cy="315.93" r="5.25" fill="#d62728"/>
<text transform="translate(200.01 322.23) scale(0.812 1)" font-size="25.4">(</text>
<text transform="translate(209.22 322.23) scale(1.044 1)" font-size="25.4">b</text>
<text transform="translate(226.01 322.23) scale(0.812 1)" font-size="25.4">)</text>
<text transform="translate(241.76 322.23) scale(0.993 1)" font-size="25.4">D</text>
<text transform="translate(260.58 322.23) scale(1.034 1)" font-size="25.4">u</text>
<text transform="translate(275.81 322.23) scale(1.228 1)" font-size="25.4">r</text>
<text transform="translate(286.31 322.23) scale(0.980 1)" font-size="25.4">i</text>
<text transform="translate(292.93 322.23) scale(1.034 1)" font-size="25.4">n</text>
<text transform="translate(308.13 322.23) scale(1.044 1)" font-size="25.4">g</text>
<text transform="translate(331.92 322.23) scale(0.967 1)" font-size="25.4">1</text>
<text transform="translate(347.31 322.23) scale(0.920 1)" font-size="25.4">s</text>
<text transform="translate(359.49 322.23) scale(1.282 1)" font-size="25.4">t</text>
<text transform="translate(377.26 322.23) scale(0.855 1)" font-size="25.4">S</text>
<text transform="translate(392.36 322.23) scale(1.020 1)" font-size="25.4">o</text>
<text transform="translate(407.68 322.23) scale(0.832 1)" font-size="25.4">E</text>
<circle cx="155" cy="351.66" r="5.25" fill="#ff7f0e"/>
<text transform="translate(200.01 357.96) scale(0.812 1)" font-size="25.4">(</text>
<text transform="translate(209.01 357.96) scale(0.963 1)" font-size="25.4">c</text>
<text transform="translate(223.94 357.96) scale(0.812 1)" font-size="25.4">)</text>
<text transform="translate(239.82 357.96) scale(0.933 1)" font-size="25.4">B</text>
<text transform="translate(256.32 357.96) scale(1.037 1)" font-size="25.4">e</text>
<text transform="translate(271.2 357.96) scale(1.260 1)" font-size="25.4">f</text>
<text transform="translate(279.92 357.96) scale(1.020 1)" font-size="25.4">o</text>
<text transform="translate(294.73 357.96) scale(1.228 1)" font-size="25.4">r</text>
<text transform="translate(304.33 357.96) scale(1.037 1)" font-size="25.4">e</text>
<text transform="translate(327.38 357.96) scale(0.975 1)" font-size="25.4">2</text>
<text transform="translate(342.83 357.96) scale(1.034 1)" font-size="25.4">n</text>
<text transform="translate(358.03 357.96) scale(1.044 1)" font-size="25.4">d</text>
<text transform="translate(381.65 357.96) scale(0.855 1)" font-size="25.4">S</text>
<text transform="translate(396.75 357.96) scale(1.020 1)" font-size="25.4">o</text>
<text transform="translate(412.07 357.96) scale(0.832 1)" font-size="25.4">E</text>
<circle cx="155" cy="387.39" r="5.25" fill="#2ca02c"/>
<text transform="translate(200.01 393.69) scale(0.812 1)" font-size="25.4">(</text>
<text transform="translate(208.94 393.69) scale(1.044 1)" font-size="25.4">d</text>
<text transform="translate(226.01 393.69) scale(0.812 1)" font-size="25.4">)</text>
<text transform="translate(241.76 393.69) scale(0.993 1)" font-size="25.4">D</text>
<text transform="translate(260.58 393.69) scale(1.034 1)" font-size="25.4">u</text>
<text transform="translate(275.81 393.69) scale(1.228 1)" font-size="25.4">r</text>
<text transform="translate(286.31 393.69) scale(0.980 1)" font-size="25.4">i</text>
<text transform="translate(292.93 393.69) scale(1.034 1)" font-size="25.4">n</text>
<text transform="translate(308.13 393.69) scale(1.044 1)" font-size="25.4">g</text>
<text transform="translate(331.66 393.69) scale(0.975 1)" font-size="25.4">2</text>
<text transform="translate(347.1 393.69) scale(1.034 1)" font-size="25.4">n</text>
<text transform="translate(362.31 393.69) scale(1.044 1)" font-size="25.4">d</text>
<text transform="translate(385.92 393.69) scale(0.855 1)" font-size="25.4">S</text>
<text transform="translate(401.03 393.69) scale(1.020 1)" font-size="25.4">o</text>
<text transform="translate(416.34 393.69) scale(0.832 1)" font-size="25.4">E</text>
</svg>
</body></html>
